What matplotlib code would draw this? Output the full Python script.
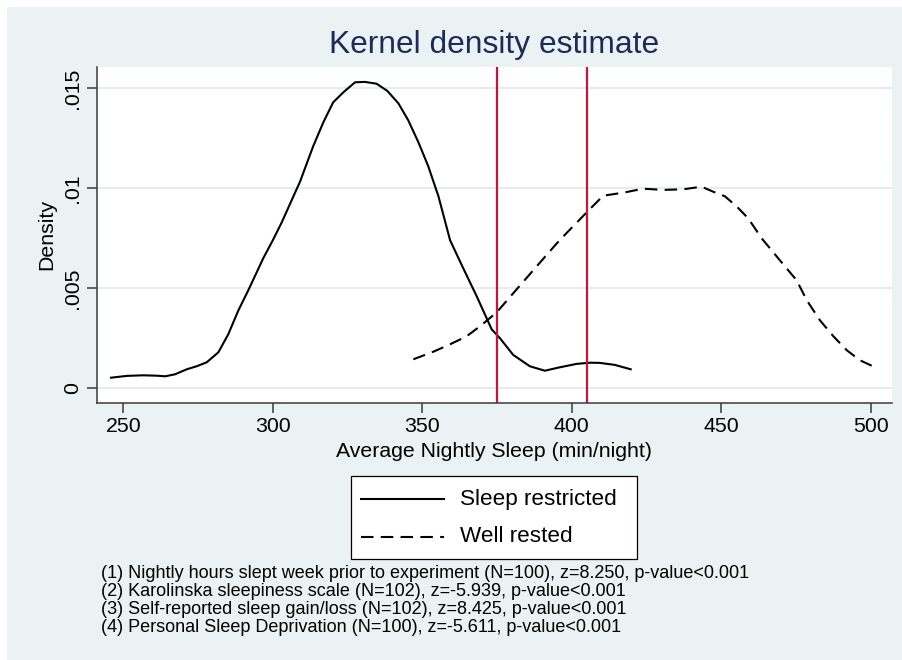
import matplotlib
matplotlib.use("Agg")
import matplotlib.pyplot as plt
from matplotlib.patches import Rectangle
from matplotlib.lines import Line2D

# ---- data ----
restricted_x = [245.9, 251.1, 256.7, 261.2, 264.0, 267.3, 271.2, 274.5, 277.9, 281.8,
                285.1, 288.5, 291.8, 296.8, 300.0, 303.0, 306.0, 309.1, 313.5, 316.9,
                320.2, 323.6, 327.5, 330.8, 334.7, 338.3, 342.0, 345.3, 348.7, 352.0,
                355.4, 359.3, 363.7, 368.2, 373.2, 376.0, 380.4, 386.0, 391.0, 396.0,
                401.6, 406.1, 409.4, 414.4, 419.7]
restricted_y = [0.00053, 0.00062, 0.00065, 0.00063, 0.00060, 0.00070, 0.00095, 0.00110, 0.00130, 0.00180,
                0.00270, 0.00390, 0.00490, 0.00650, 0.00740, 0.00830, 0.00930, 0.01033, 0.01210, 0.01330,
                0.01430, 0.01480, 0.01530, 0.01532, 0.01523, 0.01487, 0.01425, 0.01340, 0.01230, 0.01110,
                0.00960, 0.00740, 0.00600, 0.00460, 0.00295, 0.00250, 0.00167, 0.00110, 0.00088, 0.00105,
                0.00122, 0.00128, 0.00127, 0.00117, 0.00095]

rested_x = [347.0, 353.7, 359.3, 364.8, 369.3, 374.9, 380.4, 387.1, 395.0, 397.2,
            405.0, 410.5, 417.2, 423.9, 430.6, 437.3, 443.4, 447.3, 451.2, 455.1,
            459.0, 463.5, 469.6, 475.2, 478.6, 483.0, 487.5, 492.0, 496.4, 500.3]
rested_y = [0.00145, 0.00183, 0.00220, 0.00260, 0.00310, 0.00380, 0.00475, 0.00590, 0.00725, 0.00760,
            0.00880, 0.00963, 0.00978, 0.00998, 0.00992, 0.00995, 0.01008, 0.00983, 0.00960, 0.00910,
            0.00850, 0.00750, 0.00640, 0.00540, 0.00440, 0.00340, 0.00260, 0.00190, 0.00140, 0.00113]

vlines_x = [375, 405]

x_ticks = [250, 300, 350, 400, 450, 500]
y_ticks = [0, 0.005, 0.01, 0.015]
y_tick_labels = ["0", ".005", ".01", ".015"]

series_labels = ["Sleep restricted", "Well rested"]
title = "Kernel density estimate"
xlabel = "Average Nightly Sleep (min/night)"
ylabel = "Density"
notes = [
    "(1) Nightly hours slept week prior to experiment (N=100), z=8.250, p-value<0.001",
    "(2) Karolinska sleepiness scale (N=102), z=-5.939, p-value<0.001",
    "(3) Self-reported sleep gain/loss (N=102), z=8.425, p-value<0.001",
    "(4) Personal Sleep Deprivation (N=100), z=-5.611, p-value<0.001",
]

# ---- styling ----
plt.rcParams['font.family'] = ['Liberation Sans', 'DejaVu Sans']
BG = '#EAF2F3'
GRID = '#E3ECEF'
NAVY = '#1C2B58'
RED = '#C8143C'

W, H = 902, 660
fig = plt.figure(figsize=(W / 100, H / 100), dpi=100, facecolor='white')

def px(x, y):
    return (x / W, 1 - y / H)

# background region
fig.patches.append(Rectangle((7 / W, 0), (W - 7) / W, (H - 7) / H,
                             transform=fig.transFigure, facecolor=BG, edgecolor='none', zorder=-5))

L, R, T, B = 97, 892, 67.3, 402.7
ax = fig.add_axes([L / W, 1 - B / H, (R - L) / W, (B - T) / H])
ax.set_zorder(1)
ax.set_facecolor('white')
ax.set_xlim(241.2, 507.1)
ax.set_ylim(-0.00072, 0.01605)

for s in ['top', 'right']:
    ax.spines[s].set_visible(False)
for s in ['left', 'bottom']:
    ax.spines[s].set_color('#3a3a3a')
    ax.spines[s].set_linewidth(1.1)

ax.set_xticks(x_ticks)
ax.set_xticklabels([str(v) for v in x_ticks])
ax.set_yticks(y_ticks)
ax.set_yticklabels(y_tick_labels, rotation=90, va='center')
ax.tick_params(axis='both', length=7.5, width=1.1, color='#3a3a3a', labelsize=15.3, labelcolor='black')
ax.tick_params(axis='x', pad=3)
ax.tick_params(axis='y', pad=3)
ax.grid(axis='y', color=GRID, linewidth=1.4)
ax.set_axisbelow(True)

ax.plot(restricted_x, restricted_y, color='black', linewidth=1.5, solid_joinstyle='round')
ax.plot(rested_x, rested_y, color='black', linewidth=1.5, linestyle=(0, (6, 3.5)))
for v in vlines_x:
    ax.axvline(v, color=RED, linewidth=1.6)

ax.set_xlabel(xlabel, fontsize=15.3, labelpad=4)
ax.set_ylabel(ylabel, fontsize=15.3, labelpad=5.5)

fig.text(*px(494, 45), title, fontsize=22.9, color=NAVY, ha='center', va='center')

# legend box
box_top, box_bot = 476, 559
fig.patches.append(Rectangle(px(351, box_bot), (637 - 351) / W, (box_bot - box_top) / H,
                             transform=fig.transFigure, facecolor='white', edgecolor='black', linewidth=0.9, zorder=2))
fig.lines.append(Line2D([361 / W, 444 / W], [1 - 499 / H] * 2, transform=fig.transFigure,
                        color='black', linewidth=1.5, zorder=3))
fig.lines.append(Line2D([361 / W, 444 / W], [1 - 537 / H] * 2, transform=fig.transFigure,
                        color='black', linewidth=1.5, linestyle=(0, (6, 3.5)), zorder=3))
fig.text(*px(460, 499), series_labels[0], fontsize=16.2, ha='left', va='center', zorder=4)
fig.text(*px(460, 537), series_labels[1], fontsize=16.2, ha='left', va='center', zorder=4)

for i, n in enumerate(notes):
    fig.text(*px(101, 574 + 17.8 * i), n, fontsize=13.0, ha='left', va='center')

fig.savefig('out.png', dpi=100, facecolor='white')
